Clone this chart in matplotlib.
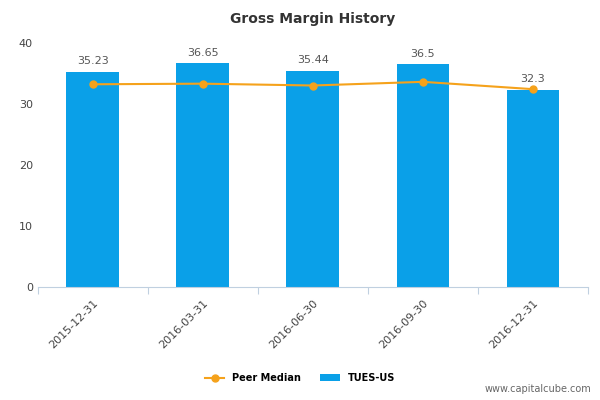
import matplotlib
matplotlib.use("Agg")
import matplotlib.pyplot as plt

categories = ["2015-12-31", "2016-03-31", "2016-06-30", "2016-09-30", "2016-12-31"]
tues = [35.23, 36.65, 35.44, 36.5, 32.3]
peer = [33.2, 33.3, 33.0, 33.6, 32.4]
yticks = [0, 10, 20, 30, 40]

fig = plt.figure(figsize=(6, 4), dpi=100)
ax = fig.add_axes([0.063, 0.283, 0.917, 0.61])
x = list(range(len(categories)))
ax.bar(x, tues, width=0.48, color="#0aa0e8", zorder=2, label="TUES-US")
ax.plot(x, peer, color="#f5a21b", lw=1.5, marker="o", ms=5, zorder=3, label="Peer Median")
for xi, v in zip(x, tues):
    ax.text(xi, v + 0.9, f"{v:g}", ha="center", va="bottom", fontsize=8, color="#555555")
ax.set_xlim(-0.5, len(categories) - 0.5)
ax.set_ylim(0, 40)
ax.set_yticks(yticks)
ax.set_xticks([i - 0.5 for i in range(len(categories) + 1)], minor=False, labels=[])
ax.set_xticks(x, minor=True, labels=categories, rotation=45, ha="right", rotation_mode="anchor")
ax.tick_params(axis="x", which="major", length=5, color="#c0d0e0")
ax.tick_params(axis="x", which="minor", length=0, labelsize=8, labelcolor="#444444", pad=8)
ax.tick_params(axis="y", length=0, labelsize=8, labelcolor="#444444")
for s in ["top", "right", "left"]:
    ax.spines[s].set_visible(False)
ax.spines["bottom"].set_color("#c0d0e0")
ax.set_title("Gross Margin History", fontsize=10, fontweight="bold", color="#333333", pad=14)
fig.legend(loc="lower center", bbox_to_anchor=(0.5, 0.02), ncol=2, frameon=False,
           prop={"size": 7, "weight": "bold"}, handlelength=2)
fig.text(0.985, 0.015, "www.capitalcube.com", ha="right", va="bottom", fontsize=7, color="#666666")
fig.savefig("out.png", dpi=100)
